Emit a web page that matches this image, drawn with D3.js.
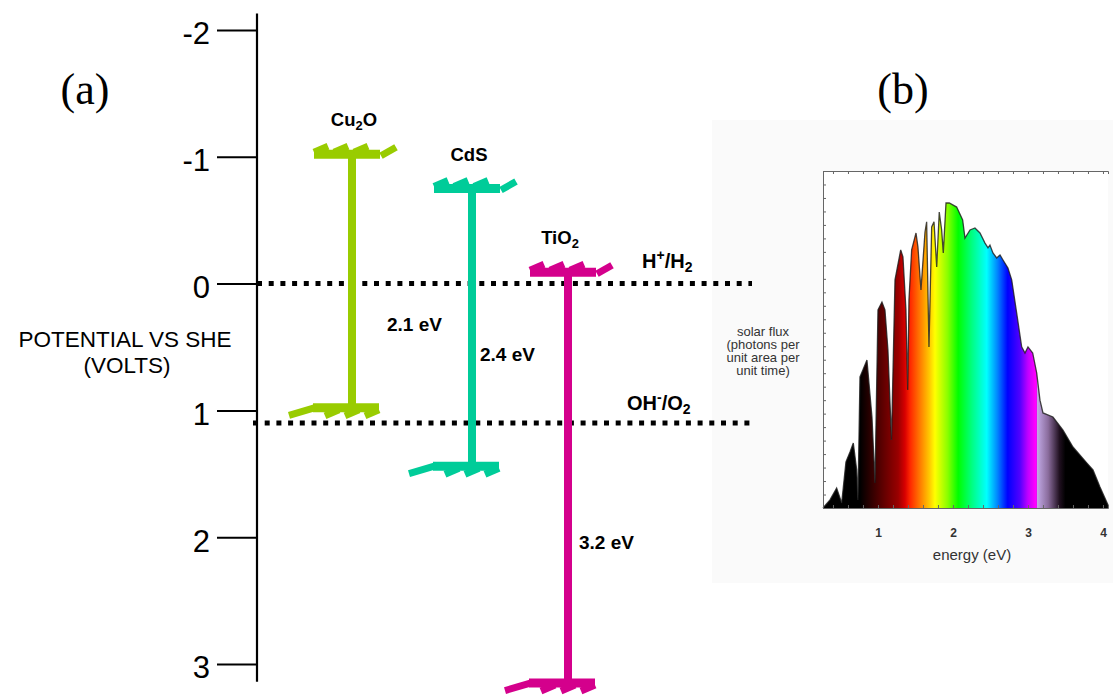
<!DOCTYPE html>
<html>
<head>
<meta charset="utf-8">
<script src="https://cdn.jsdelivr.net/npm/d3@7"></script>
<style>
  body { margin: 0; background: #fff; }
  svg { display: block; }
</style>
</head>
<body>
<svg id="chart" width="1113" height="696" font-family="Arial, 'Liberation Sans', sans-serif"></svg>
<script>
// ---- panel (a): band edges vs SHE ----
const potentialTicks = [-2, -1, 0, 1, 2, 3];
const materials = ["Cu2O", "CdS", "TiO2"];
const conductionBand = [-1.02, -0.75, -0.09];
const valenceBand = [0.98, 1.44, 3.15];
const gapLabels = ["2.1 eV", "2.4 eV", "3.2 eV"];
const redoxNames = ["H+/H2", "OH-/O2"];
const redoxLevels = [0, 1.1];

// ---- panel (b): solar spectrum ----
const energyTicks = [1, 2, 3, 4];
const spectrumEnergy = [0.267, 0.36, 0.449, 0.516, 0.573, 0.627, 0.671, 0.716, 0.733, 0.76,
    0.8, 0.853, 0.92, 0.96, 1.0, 1.053, 1.093, 1.133, 1.18, 1.227,
    1.303, 1.333, 1.373, 1.396, 1.413, 1.449, 1.507, 1.533, 1.573, 1.627,
    1.649, 1.68, 1.716, 1.747, 1.783, 1.817, 1.849, 1.871, 1.907, 1.951,
    2.049, 2.129, 2.16, 2.227, 2.293, 2.36, 2.427, 2.467, 2.493, 2.533,
    2.583, 2.627, 2.667, 2.733, 2.783, 2.849, 2.916, 2.96, 3.0, 3.063,
    3.116, 3.16, 3.2, 3.333, 3.467, 3.6, 3.783, 3.867, 3.96, 4.067, 4.067];
const spectrumFlux = [0, 0.024, 0.059, 0.015, 0.137, 0.166, 0.193, 0.113, 0.024, 0.389,
    0.41, 0.439, 0.27, 0.074, 0.588, 0.611, 0.588, 0.469, 0.202, 0.677,
    0.766, 0.745, 0.588, 0.35, 0.617, 0.766, 0.816, 0.774, 0.647, 0.819,
    0.849, 0.478, 0.834, 0.849, 0.715, 0.878, 0.825, 0.757, 0.905, 0.905,
    0.893, 0.855, 0.801, 0.825, 0.831, 0.816, 0.786, 0.772, 0.78, 0.757,
    0.742, 0.751, 0.736, 0.712, 0.677, 0.579, 0.478, 0.46, 0.478, 0.46,
    0.401, 0.32, 0.282, 0.27, 0.231, 0.181, 0.134, 0.113, 0.062, 0.009, 0];

const svg = d3.select("#chart");
const fontFamily = "Arial, 'Liberation Sans', sans-serif";
const serifFamily = "'Liberation Serif', 'Times New Roman', serif";

// text with digits as subscripts and +/- as superscripts
function richText(sel, str, fs) {
    let shift = 0;
    str.match(/\d+|[+-]|[^\d+-]+/g).forEach(function (part) {
        const isSub = /\d/.test(part), isSup = /[+-]/.test(part);
        const target = isSub ? 0.22 * fs : isSup ? -0.38 * fs : 0;
        sel.append("tspan")
            .attr("dy", target - shift)
            .attr("font-size", (isSub || isSup) ? fs * 0.7 : fs)
            .text(part);
        shift = target;
    });
}

// faint backdrop of panel (b), drawn first so the dotted lines sit on top
svg.append("rect").attr("x", 712).attr("y", 120).attr("width", 401).attr("height", 463)
    .attr("fill", "#fafafa");

// ================= panel (a) =================
const yPot = d3.scaleLinear().domain([-2, 3]).range([30, 664]);
const xMat = d3.scaleOrdinal().domain(materials).range([352, 472, 568]);
const matColor = d3.scaleOrdinal().domain(materials).range(["#99cc00", "#00cc99", "#d4008c"]);

// axis
const axisG = svg.append("g")
    .attr("transform", "translate(257,0)")
    .call(d3.axisLeft(yPot).tickValues(potentialTicks).tickSize(40).tickPadding(7)
        .tickFormat(d => String(d)))
    .attr("font-family", fontFamily)
    .attr("font-size", 31);
axisG.select(".domain").remove();
axisG.selectAll(".tick line").attr("stroke", "#000").attr("stroke-width", 2);
axisG.selectAll(".tick text").attr("fill", "#000").attr("dy", "0.45em");
svg.append("line")
    .attr("x1", 257).attr("x2", 257)
    .attr("y1", yPot(-2.13)).attr("y2", yPot(3.14))
    .attr("stroke", "#000").attr("stroke-width", 2.2);

svg.append("text").attr("x", 125).attr("y", 347).attr("text-anchor", "middle")
    .attr("font-size", 22.5).text("POTENTIAL VS SHE");
svg.append("text").attr("x", 127).attr("y", 373).attr("text-anchor", "middle")
    .attr("font-size", 22.5).text("(VOLTS)");

svg.append("text").attr("x", 85).attr("y", 104).attr("text-anchor", "middle")
    .attr("font-family", serifFamily).attr("font-size", 44).text("(a)");
svg.append("text").attr("x", 903).attr("y", 104).attr("text-anchor", "middle")
    .attr("font-family", serifFamily).attr("font-size", 44).text("(b)");

// redox reference levels (dotted)
const redoxSpan = [[257, 752], [253, 750]];
const redoxLabelPos = [[642, -16], [627, -13]];
redoxLevels.forEach(function (v, i) {
    svg.append("line")
        .attr("x1", redoxSpan[i][0]).attr("x2", redoxSpan[i][1])
        .attr("y1", yPot(v)).attr("y2", yPot(v))
        .attr("stroke", "#000").attr("stroke-width", 5)
        .attr("stroke-dasharray", "5,6.7");
    const t = svg.append("text")
        .attr("x", redoxLabelPos[i][0]).attr("y", yPot(v) + redoxLabelPos[i][1])
        .attr("font-weight", "bold");
    richText(t, redoxNames[i], 20);
});

// band-edge shapes (sawtooth bars), offsets relative to column centre
const cbTeeth = [[[-38, -2], [-24, -8]], [[-18, -2], [-4, -8]], [[2, -2], [16, -8]], [[29, 1.5], [44, -7]]];
const vbTeeth = [[[27, 2], [13, 8]], [[7, 2], [-7, 8]], [[-13, 2], [-27, 8]], [[-36, -0.5], [-63, 7.5]]];
const segLine = d3.line();

function bandEdge(g, cx, cy, bar, teeth, color) {
    g.append("line")
        .attr("x1", cx + bar[0]).attr("x2", cx + bar[1])
        .attr("y1", cy).attr("y2", cy)
        .attr("stroke", color).attr("stroke-width", 9);
    teeth.forEach(function (t) {
        g.append("path")
            .attr("d", segLine(t.map(p => [cx + p[0], cy + p[1]])))
            .attr("stroke", color).attr("stroke-width", 7).attr("fill", "none");
    });
}

const gapLabelPos = [[35, 0.37], [8, 0.61], [11, 2.09]];
const nameOffset = [2, -3, -8];

materials.forEach(function (m, i) {
    const g = svg.append("g");
    const cx = xMat(m), color = matColor(m);
    const yc = yPot(conductionBand[i]), yv = yPot(valenceBand[i]);
    g.append("line")
        .attr("x1", cx).attr("x2", cx).attr("y1", yc).attr("y2", yv)
        .attr("stroke", color).attr("stroke-width", 8);
    bandEdge(g, cx, yc, [-38, 28], cbTeeth, color);
    bandEdge(g, cx, yv, [-39, 27], vbTeeth, color);

    const name = g.append("text")
        .attr("x", cx + nameOffset[i]).attr("y", yc - 28)
        .attr("text-anchor", "middle").attr("font-weight", "bold");
    richText(name, m, 18.5);

    g.append("text")
        .attr("x", cx + gapLabelPos[i][0]).attr("y", yPot(gapLabelPos[i][1]))
        .attr("font-size", 19).attr("font-weight", "bold")
        .text(gapLabels[i]);
});

// ================= panel (b) =================
svg.append("rect").attr("x", 823).attr("y", 171).attr("width", 285).attr("height", 337)
    .attr("fill", "#fff");

const xE = d3.scaleLinear().domain([0.267, 4.067]).range([823, 1108]);
const yF = d3.scaleLinear().domain([0, 1]).range([508, 171]);

const spectrum = spectrumEnergy.map((e, i) => [e, spectrumFlux[i]]);

const stops = [[0.76, "#000000"], [0.9, "#2c0000"], [1.09, "#660000"], [1.27, "#9a0000"],
    [1.36, "#d80000"], [1.43, "#ff2800"], [1.56, "#ff7a00"], [1.69, "#ffcc00"],
    [1.76, "#ffff00"], [1.93, "#88ff00"], [2.07, "#00ff00"], [2.25, "#00ff80"],
    [2.45, "#00ffff"], [2.59, "#0088ff"], [2.73, "#0000ff"], [2.89, "#5000ff"],
    [3.0, "#c000ff"], [3.1, "#ff00ff"], [3.113, "#f000f8"], [3.125, "#c0a8e4"],
    [3.27, "#8a6c9c"], [3.42, "#201020"], [3.5, "#000000"]];
const grad = svg.append("defs").append("linearGradient")
    .attr("id", "rainbow").attr("gradientUnits", "userSpaceOnUse")
    .attr("x1", xE(0.267)).attr("x2", xE(4.067)).attr("y1", 0).attr("y2", 0);
stops.forEach(function (s) {
    grad.append("stop")
        .attr("offset", (xE(s[0]) - xE(0.267)) / (xE(4.067) - xE(0.267)))
        .attr("stop-color", s[1]);
});

svg.append("path").datum(spectrum)
    .attr("d", d3.area().x(d => xE(d[0])).y0(yF(0)).y1(d => yF(d[1])))
    .attr("fill", "url(#rainbow)");
svg.append("path").datum(spectrum)
    .attr("d", d3.line().x(d => xE(d[0])).y(d => yF(d[1])))
    .attr("fill", "none").attr("stroke", "#1a1a1a").attr("stroke-width", 1.3)
    .attr("stroke-opacity", 0.8);

// frame with small inward ticks
const minorE = d3.range(0.4, 4.07, 0.2);
const frameColor = "#666";
const leftAx = svg.append("g").attr("transform", "translate(823,0)")
    .call(d3.axisLeft(yF).tickValues(d3.range(0, 1.001, 0.04)).tickSize(-3).tickFormat(""));
const topAx = svg.append("g").attr("transform", "translate(0,171)")
    .call(d3.axisTop(xE).tickValues(minorE).tickSize(-3).tickFormat(""));
const botMinor = svg.append("g").attr("transform", "translate(0,508)")
    .call(d3.axisBottom(xE).tickValues(minorE).tickSize(-3).tickFormat(""));
[leftAx, topAx, botMinor].forEach(function (g) {
    g.selectAll("path, line").attr("stroke", frameColor).attr("stroke-width", 1);
});
const botAx = svg.append("g").attr("transform", "translate(0,508)")
    .call(d3.axisBottom(xE).tickValues(energyTicks).tickSize(0).tickPadding(20)
        .tickFormat(d => String(d)))
    .attr("font-family", fontFamily).attr("font-size", 12).attr("font-weight", "bold");
botAx.select(".domain").remove();
botAx.selectAll("text").attr("fill", "#333");

svg.append("text").attr("x", 972).attr("y", 560).attr("text-anchor", "middle")
    .attr("font-size", 15).attr("fill", "#333").text("energy (eV)");

["solar flux", "(photons per", "unit area per", "unit time)"].forEach(function (s, i) {
    svg.append("text").attr("x", 763).attr("y", 336 + i * 13)
        .attr("text-anchor", "middle").attr("font-size", 13).attr("fill", "#333")
        .text(s);
});
</script>
</body>
</html>
